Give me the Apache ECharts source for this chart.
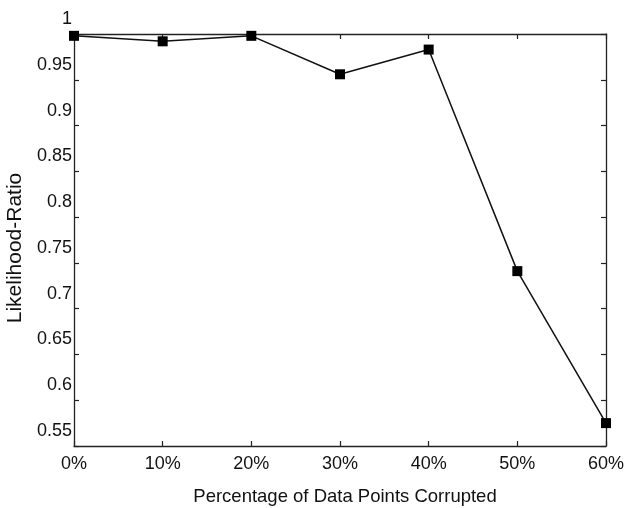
<!DOCTYPE html>
<html>
<head>
<meta charset="utf-8">
<script src="https://cdn.jsdelivr.net/npm/echarts@6/dist/echarts.min.js"></script>
<style>html,body{margin:0;padding:0;background:#fff}#c{width:629px;height:508px}</style>
</head>
<body>
<div id="c"></div>
<script>
const categories = ['0%', '10%', '20%', '30%', '40%', '50%', '60%'];
const likelihoodRatio = [0.998, 0.992, 0.998, 0.956, 0.983, 0.741, 0.575];
const yTicks = [0.55, 0.6, 0.65, 0.7, 0.75, 0.8, 0.85, 0.9, 0.95, 1];

const chart = echarts.init(document.getElementById('c'), null, {renderer: 'canvas'});
const font = 'Liberation Sans, Arial, Helvetica, sans-serif';
const axisCol = '#222';
chart.setOption({
  animation: false,
  backgroundColor: '#fff',
  grid: {left: 74, right: 23, top: 34, bottom: 62, containLabel: false, outerBoundsMode: 'none'},
  xAxis: [{
    type: 'category', data: categories, boundaryGap: false,
    name: 'Percentage of Data Points Corrupted', nameLocation: 'middle', nameGap: 41,
    nameTextStyle: {fontFamily: font, fontSize: 18.5, color: '#111', padding: [0, 0, 0, 10]},
    axisLine: {lineStyle: {color: axisCol, width: 1.3}},
    axisTick: {inside: true, length: 5, alignWithLabel: true, lineStyle: {color: axisCol, width: 1.2}},
    axisLabel: {fontFamily: font, fontSize: 18, color: '#111', margin: 9},
    splitLine: {show: false}
  }, {
    type: 'category', data: categories, boundaryGap: false, position: 'top',
    axisLine: {lineStyle: {color: axisCol, width: 1.3}},
    axisTick: {inside: true, length: 5, lineStyle: {color: axisCol, width: 1.2}},
    axisLabel: {show: false}, splitLine: {show: false}
  }],
  yAxis: [{
    type: 'value', min: 0.55, max: 1, interval: 0.05,
    name: 'Likelihood-Ratio', nameLocation: 'middle', nameGap: 46, nameRotate: 90,
    nameTextStyle: {fontFamily: font, fontSize: 21, color: '#111', padding: [0, 0, 0, -16]},
    axisLine: {show: true, lineStyle: {color: axisCol, width: 1.3}},
    axisTick: {show: true, inside: true, length: 5, lineStyle: {color: axisCol, width: 1.2}},
    axisLabel: {fontFamily: font, fontSize: 18, color: '#111', margin: 2,
      verticalAlign: 'bottom', lineHeight: 30,
      formatter: function (v) { const t = yTicks.find(x => Math.abs(x - v) < 1e-6); return t === undefined ? '' : String(t); }},
    splitLine: {show: false}
  }, {
    type: 'value', min: 0.55, max: 1, interval: 0.05, position: 'right',
    axisLine: {show: true, lineStyle: {color: axisCol, width: 1.3}},
    axisTick: {show: true, inside: true, length: 5, lineStyle: {color: axisCol, width: 1.2}},
    axisLabel: {show: false}, splitLine: {show: false}
  }],
  series: [{
    type: 'line', data: likelihoodRatio, xAxisIndex: 0, yAxisIndex: 0,
    symbol: 'rect', symbolSize: 10, clip: false,
    lineStyle: {color: '#111', width: 1.5},
    itemStyle: {color: '#000'}
  }]
});
</script>
</body>
</html>
